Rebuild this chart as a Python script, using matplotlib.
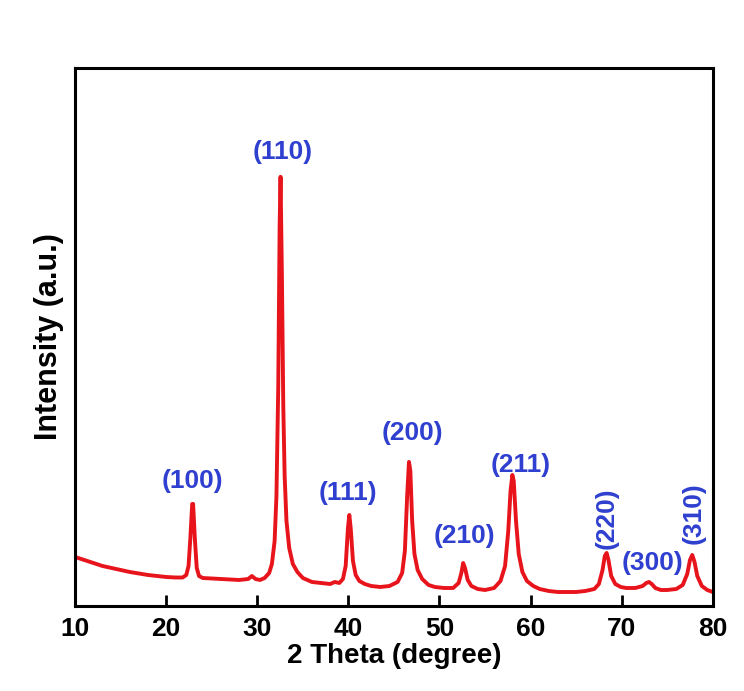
import matplotlib
matplotlib.use('Agg')
import matplotlib.pyplot as plt

plt.rcParams['font.family'] = ['Liberation Sans Narrow', 'Liberation Sans', 'DejaVu Sans']

# XRD pattern (2 theta in degrees, intensity in arbitrary units)
two_theta = [10, 11, 12, 13, 14, 15, 16, 17, 18, 19, 20, 21, 21.8, 22.2, 22.45, 22.65,
             22.85, 22.95, 23.15, 23.35, 23.6, 24, 25, 26, 27, 28, 29, 29.4, 29.8, 30.3,
             30.8, 31.3, 31.6, 31.9, 32.1, 32.3, 32.45, 32.55, 32.7, 32.85, 33.0, 33.2,
             33.5, 33.9, 34.4, 35, 36, 37, 38, 38.5, 39, 39.4, 39.7, 39.95, 40.1, 40.25,
             40.5, 40.8, 41.2, 41.8, 42.5, 43.5, 44.5, 45.4, 45.9, 46.2, 46.45, 46.65,
             46.8, 47.0, 47.25, 47.6, 48.1, 48.8, 49.5, 50.5, 51.5, 52.1, 52.4, 52.6,
             52.8, 53.1, 53.5, 54.2, 55, 56, 56.7, 57.2, 57.55, 57.8, 58.0, 58.15, 58.4,
             58.7, 59.1, 59.6, 60.3, 61, 62, 63, 64, 65, 66, 67, 67.5, 67.9, 68.15, 68.35,
             68.55, 68.85, 69.3, 69.9, 70.5, 71.5, 72.3, 72.7, 73.0, 73.3, 73.7, 74.3,
             75, 76, 76.7, 77.2, 77.5, 77.75, 78.0, 78.3, 78.8, 79.4, 80]
intensity = [49, 46, 43, 40, 38, 36, 34, 32.5, 31, 30, 29, 28.5, 28.5, 31, 40, 68,
             102, 102, 66, 38, 30, 28, 27.5, 27, 26.5, 26, 27, 30, 27, 26,
             28, 33, 42, 65, 110, 220, 380, 429, 330, 200, 130, 85,
             58, 42, 34, 28, 24, 23, 22, 24, 23, 27, 40, 78, 91, 78,
             45, 31, 25, 22, 20, 19, 20, 24, 33, 55, 110, 144,
             135, 85, 52, 36, 27, 21, 19, 18, 18, 23, 33, 43,
             38, 26, 20, 17, 16, 18, 25, 40, 75, 115, 131, 125, 85,
             52, 34, 25, 20, 17, 15, 14, 14, 14, 15, 17, 22, 36, 50, 53,
             46, 30, 22, 19, 18, 18, 20, 23, 24, 22, 18, 16,
             16, 17, 21, 32, 46, 51, 44, 30, 20, 16, 14]

# peak labels: text, x position, y position, rotation
hkl = ['(100)', '(110)', '(111)', '(200)', '(210)', '(211)', '(220)', '(300)', '(310)']
hkl_x = [22.9, 32.8, 40.0, 47.0, 52.7, 58.9, 68.3, 73.4, 77.9]
hkl_y = [125, 454, 113, 173, 70, 141, 88, 43, 93]
hkl_rot = [0, 0, 0, 0, 0, 0, 90, 0, 90]

fig = plt.figure(figsize=(7.44, 6.91), dpi=100)
ax = fig.add_axes([0.101, 0.123, 0.857, 0.779])

ax.plot(two_theta, intensity, color='#e8141c', lw=2.8, solid_joinstyle='round')

for t, x, y, r in zip(hkl, hkl_x, hkl_y, hkl_rot):
    ax.text(x, y, t, color='#2f3fcf', fontsize=19, fontweight='bold',
            ha='center', va='center', rotation=r)

ax.set_xlim(10, 80)
ax.set_ylim(0, 538)
ax.set_xticks([10, 20, 30, 40, 50, 60, 70, 80])
ax.set_yticks([])
ax.tick_params(axis='x', direction='in', length=8, width=2, pad=8, labelsize=19)
for lab in ax.get_xticklabels():
    lab.set_fontweight('bold')
for s in ax.spines.values():
    s.set_linewidth(2.2)

ax.set_xlabel('2 Theta (degree)', fontsize=20, fontweight='bold', labelpad=1)
ax.set_ylabel('Intensity (a.u.)', fontsize=22, fontweight='bold', labelpad=8)

fig.savefig('out.png', dpi=100)
